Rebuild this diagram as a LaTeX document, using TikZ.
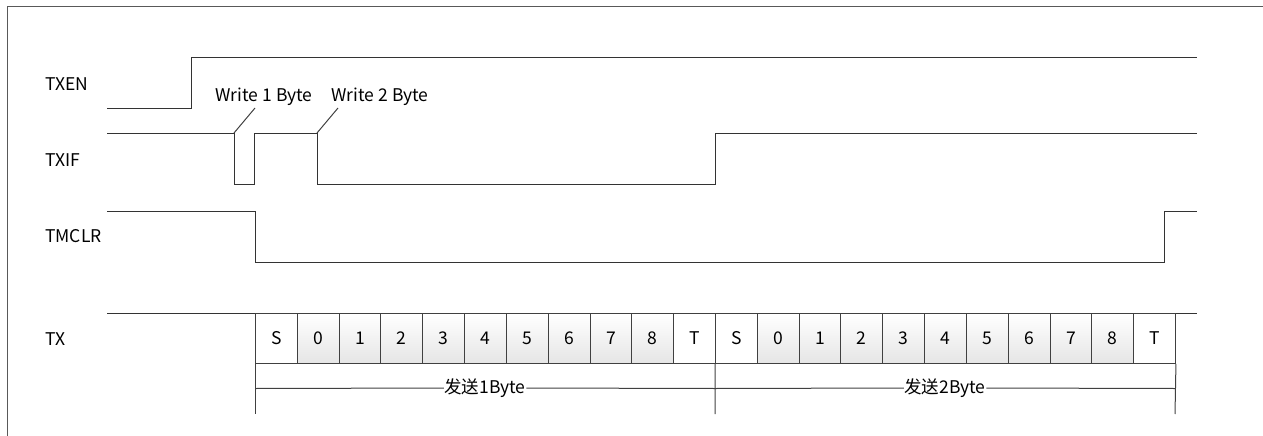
\documentclass[tikz,border=0pt]{standalone}
\usepackage{fontspec}
\setmainfont{Noto Sans CJK SC}
\begin{document}
\begin{tikzpicture}[x=1pt,y=-1pt,
  fs/.style={font=\fontsize{17.5}{17.5}\selectfont},
  sig/.style={draw=black!80,line width=1pt},
  thin/.style={draw=black!75,line width=1pt},
  lbl/.style={fs,anchor=west,inner sep=0pt},
  bitw/.style={fs,draw=black!75,line width=0.9pt,minimum width=41.82pt,minimum height=50pt,inner sep=0pt,anchor=north west},
  bitg/.style={bitw,top color=white,bottom color=black!10},
  frame/.style={draw=black!65,line width=0.9pt}]
\useasboundingbox (0,0) rectangle (1263,436);
\draw[frame] (7,436) -- (7,6) -- (1263,6);
% labels
\node[lbl] (lTXEN) at (45,84) {TXEN};
\node[lbl] (lTXIF) at (45,160) {TXIF};
\node[lbl] (lTMCLR) at (45,236) {TMCLR};
\node[lbl] (lTX) at (45,339) {TX};
% TXEN
\draw[sig] (107,108) -- (191,108) -- (191,58) -- (1197,58);
% TXIF
\coordinate (w1) at (234,133);
\coordinate (w2) at (317,133);
\draw[sig] (107,133) -- (w1) -- (234,184) -- (254,184) -- (254,133) -- (w2) -- (317,184) -- (715,184) -- (715,133) -- (1197,133);
\node[fs,inner sep=0pt,anchor=base] (t1) at (264,101) {Write 1 Byte};
\node[fs,inner sep=0pt,anchor=base] (t2) at (380,101) {Write 2 Byte};
\coordinate (t1e) at (255,108);
\coordinate (t2e) at (338,108);
\draw[thin] (w1) -- (t1e);
\draw[thin] (w2) -- (t2e);
% TMCLR
\draw[sig] (107,211) -- (255,211) -- (255,262) -- (1164,262) -- (1164,211) -- (1197,211);
% TX
\draw[sig] (107,313) -- (1197,313);
\foreach \t [count=\i from 0] in {S,0,1,2,3,4,5,6,7,8,T,S,0,1,2,3,4,5,6,7,8,T}{
  \ifnum\i=0 \def\st{bitw}\else\ifnum\i=10 \def\st{bitw}\else\ifnum\i=11 \def\st{bitw}\else\ifnum\i=21 \def\st{bitw}\else\def\st{bitg}\fi\fi\fi\fi
  \node[\st] (b\i) at ({255+\i*41.82},313) {\t};
}
% byte spans
\coordinate (v0) at (255,414);
\coordinate (v1) at (715,414);
\coordinate (v2) at (1175,414);
\draw[thin] (b0.south west) -- (v0);
\draw[thin] (b11.south west) -- (v1);
\draw[thin] (b21.south east) -- (v2);
\node[fs,inner sep=0.5pt,fill=white] (s1) at (485,388) {发送1Byte};
\node[fs,inner sep=0.5pt,fill=white] (s2) at (945,388) {发送2Byte};
\draw[thin] (255,388.5) -- (s1.west) (s1.east) -- (715,388.5) -- (s2.west) (s2.east) -- (1175,388.5);
\end{tikzpicture}
\end{document}
